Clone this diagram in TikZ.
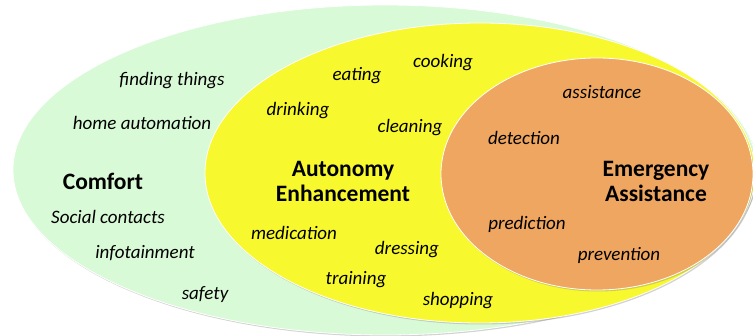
\documentclass[tikz,border=0pt]{standalone}
\usepackage{fontspec}
\setmainfont{Carlito}
\usetikzlibrary{shapes,positioning,shadows}
\definecolor{comfortgreen}{RGB}{217,250,215}
\definecolor{autoyellow}{RGB}{248,248,46}
\definecolor{emerorange}{RGB}{238,166,96}
\tikzset{
    zone/.style={draw=white,line width=0.8pt,drop shadow={opacity=0.35,shadow xshift=1pt,shadow yshift=-1.5pt}},
    item/.style={font=\itshape\fontsize{19}{19}\selectfont,inner sep=0pt,anchor=base},
    area/.style={font=\bfseries\fontsize{23.5}{25}\selectfont,align=center,inner sep=0pt},
}

\begin{document}
\begin{tikzpicture}[x=1pt,y=-1pt]
    \useasboundingbox [fill=white] (0,0) rectangle (753,336);
    \path [zone,fill=comfortgreen] (385,170) ellipse [x radius=372,y radius=165];
    \path [zone,fill=autoyellow] (480,173) ellipse [x radius=275,y radius=150];
    \path [zone,fill=emerorange] (597,174) ellipse [x radius=156,y radius=116];
    % comfort
    \node [area] (comfort) at (103,181) {Comfort};
    \node [item] (finding) at (172,86) {finding things};
    \node [item] (home) at (142,130) {home automation};
    \node [item] (social) at (108,224) {Social contacts};
    \node [item] (info) at (145,259) {infotainment};
    \node [item] (safety) at (205,300) {safety};
    % autonomy
    \node [area] (autonomy) at (343,181) {Autonomy\\Enhancement};
    \node [item] (eating) at (357,81) {eating};
    \node [item] (cooking) at (443,68) {cooking};
    \node [item] (drinking) at (298,116) {drinking};
    \node [item] (cleaning) at (410,133) {cleaning};
    \node [item] (medication) at (294,240) {medication};
    \node [item] (dressing) at (407,255) {dressing};
    \node [item] (training) at (356,285) {training};
    \node [item] (shopping) at (458,306) {shopping};
    % emergency
    \node [area] (emergency) at (656,181) {Emergency\\Assistance};
    \node [item] (assist) at (602,99) {assistance};
    \node [item] (detection) at (524,145) {detection};
    \node [item] (prediction) at (527,230) {prediction};
    \node [item] (prevention) at (619,261) {prevention};
\end{tikzpicture}
\end{document}
